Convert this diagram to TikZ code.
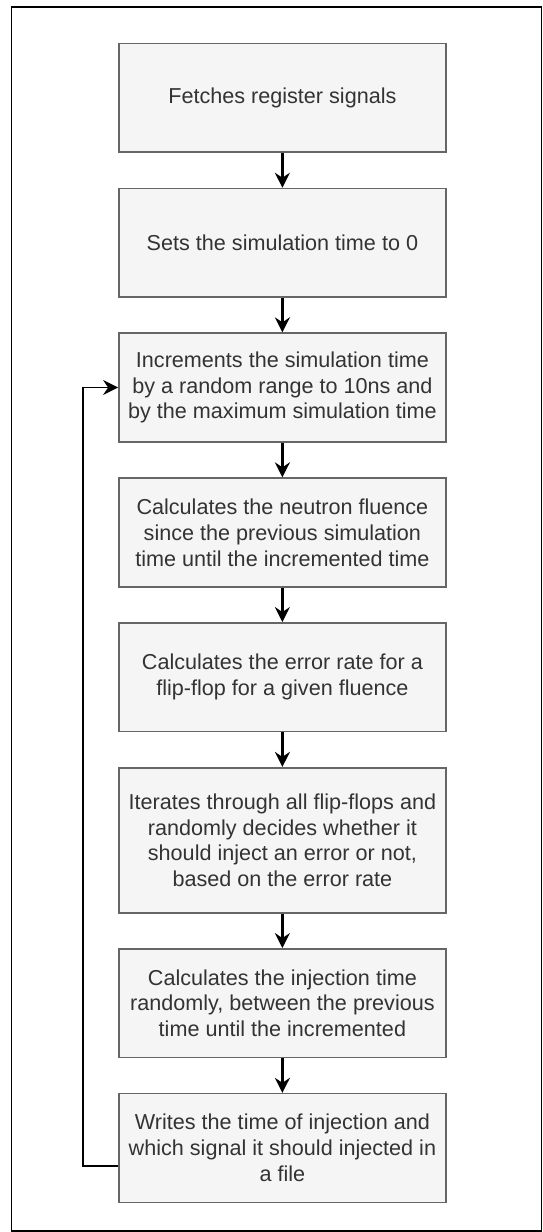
\documentclass[tikz,border=0pt]{standalone}
\usepackage{fontspec}
\setmainfont{Liberation Sans}
\usetikzlibrary{arrows.meta}
\definecolor{boxfill}{HTML}{F5F5F5}
\definecolor{boxline}{HTML}{666666}
\definecolor{boxtext}{HTML}{333333}
\begin{document}
\begin{tikzpicture}[x=1pt,y=-1pt,
  stepbox/.style={draw=boxline, fill=boxfill, line width=1.6pt, minimum width=327pt,
    minimum height=108.7pt, inner sep=0pt, align=center, text=boxtext,
    font=\fontsize{21.6}{25.8}\selectfont},
  flow/.style={line width=2.2pt, draw=black, -{Stealth[length=15pt,width=15pt,inset=5pt]}},
  loopline/.style={line width=1.8pt, draw=black, -{Stealth[length=15pt,width=15pt,inset=5pt]}}]
\useasboundingbox (0,0) rectangle (543,1232);
\draw[line width=1.8pt] (11.5,7) rectangle (541.5,1231);
\node[stepbox] (b1) at (282.4,97.8) {Fetches register signals};
\node[stepbox] (b2) at (282.4,242.9) {Sets the simulation time to 0};
\node[stepbox] (b3) at (282.4,387.5) {Increments the simulation time\\by a random range to 10ns and\\by the maximum simulation time};
\node[stepbox] (b4) at (282.4,532.5) {Calculates the neutron fluence\\since the previous simulation\\time until the incremented time};
\node[stepbox] (b5) at (282.4,677.2) {Calculates the error rate for a\\flip-flop for a given fluence};
\node[stepbox, minimum height=145pt] (b6) at (282.4,840.2) {Iterates through all flip-flops and\\randomly decides whether it\\should inject an error or not,\\based on the error rate};
\node[stepbox] (b7) at (282.4,1003.2) {Calculates the injection time\\randomly, between the previous\\time until the incremented};
\node[stepbox] (b8) at (282.4,1148) {Writes the time of injection and\\which signal it should injected in\\a file};
\draw[flow] (b1) -- (b2);
\draw[flow] (b2) -- (b3);
\draw[flow] (b3) -- (b4);
\draw[flow] (b4) -- (b5);
\draw[flow] (b5) -- (b6);
\draw[flow] (b6) -- (b7);
\draw[flow] (b7) -- (b8);
\coordinate (lo) at (b8.west |- 0,1165.7);
\draw[loopline] (lo) -- (82.7,1165.7) -- (82.7,387.5) -- (b3.west);
\end{tikzpicture}
\end{document}
